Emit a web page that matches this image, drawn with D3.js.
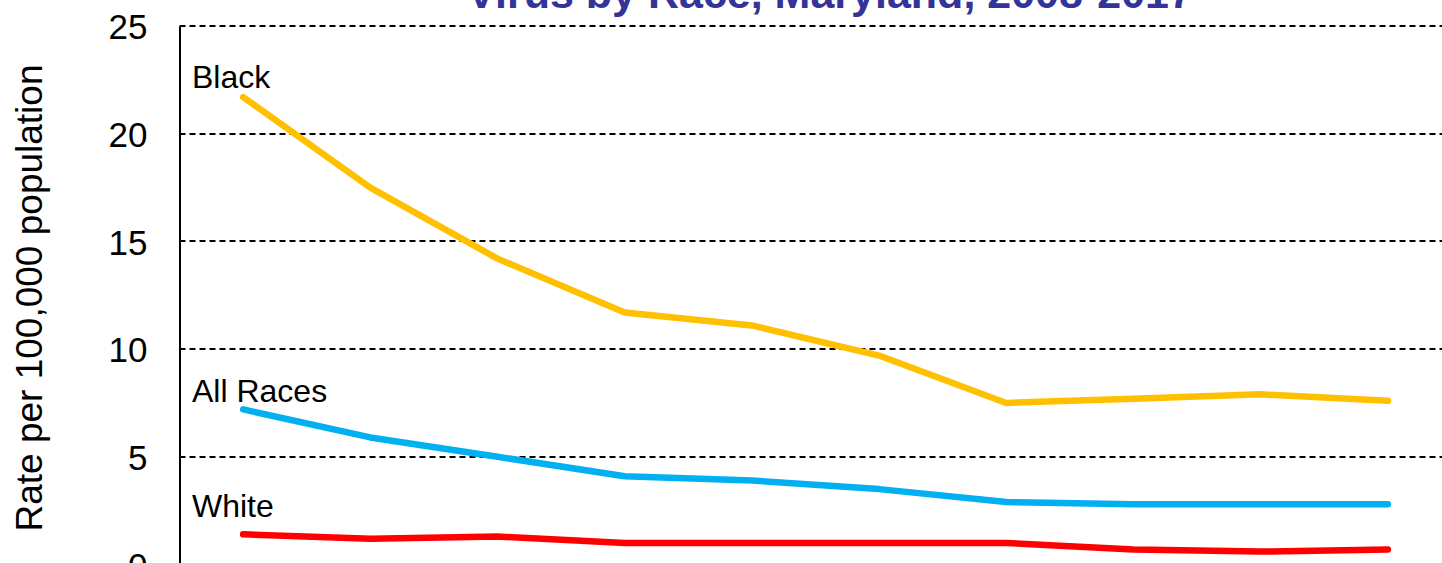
<!DOCTYPE html>
<html>
<head>
<meta charset="utf-8">
<script src="https://cdn.jsdelivr.net/npm/d3@7"></script>
<style>
  html, body { margin: 0; padding: 0; background: #ffffff; }
  svg { display: block; font-family: Arial, "Liberation Sans", sans-serif; }
</style>
</head>
<body>
<svg id="chart" width="1442" height="563"></svg>
<script>
// Rates per 100,000 population, Maryland, 2008-2017
const years = ["2008", "2009", "2010", "2011", "2012", "2013", "2014", "2015", "2016", "2017"];
const black = [21.7, 17.5, 14.2, 11.7, 11.1, 9.7, 7.5, 7.7, 7.9, 7.6];
const allRaces = [7.2, 5.9, 5.0, 4.1, 3.9, 3.5, 2.9, 2.8, 2.8, 2.8];
const white = [1.4, 1.2, 1.3, 1.0, 1.0, 1.0, 1.0, 0.7, 0.6, 0.7];
const seriesNames = ["Black", "All Races", "White"];
const yTicks = [0, 5, 10, 15, 20, 25];
const titleText = "Virus by Race, Maryland, 2008-2017";
const yAxisTitle = "Rate per 100,000 population";

const seriesValues = [black, allRaces, white];
const seriesStyle = {
  "Black":     { color: "#FFC000", labelDy: -9 },
  "All Races": { color: "#00B0F0", labelDy: -7.5 },
  "White":     { color: "#FF0000", labelDy: -17.5 }
};

const svg = d3.select("#chart");

const plotLeft = 179.5, plotTop = 26, plotBottom = 564.5;
const bandW = 127.2;

const x = d3.scaleBand()
  .domain(years)
  .range([plotLeft, plotLeft + bandW * years.length])
  .padding(0);
const xc = d => x(d) + x.bandwidth() / 2;

const y = d3.scaleLinear().domain([0, 25]).range([plotBottom, plotTop]);

// Title (second line of the heading)
svg.append("text")
  .attr("x", 830)
  .attr("y", 8)
  .attr("text-anchor", "middle")
  .attr("font-size", 43)
  .attr("font-weight", "bold")
  .attr("fill", "#333399")
  .text(titleText);

// Dashed horizontal gridlines
svg.append("g")
  .selectAll("line")
  .data(yTicks.filter(t => t > 0))
  .join("line")
  .attr("x1", plotLeft)
  .attr("x2", 1442)
  .attr("y1", d => Math.round(y(d)))
  .attr("y2", d => Math.round(y(d)))
  .attr("stroke", "#000000")
  .attr("stroke-width", 2)
  .attr("stroke-dasharray", "6,4");

// Y axis
const yAxis = d3.axisLeft(y)
  .tickValues(yTicks)
  .tickSize(0)
  .tickPadding(32)
  .tickFormat(d3.format("d"));

const gy = svg.append("g")
  .attr("transform", `translate(${plotLeft},0)`)
  .call(yAxis);
gy.select(".domain")
  .attr("stroke", "#000000")
  .attr("stroke-width", 2);
gy.selectAll(".tick text")
  .attr("font-size", 35)
  .attr("font-family", "Arial, 'Liberation Sans', sans-serif")
  .attr("fill", "#000000")
  .attr("dy", "0.36em");

// Y axis title
svg.append("text")
  .attr("transform", "translate(42,298) rotate(-90)")
  .attr("text-anchor", "middle")
  .attr("font-size", 37)
  .attr("fill", "#000000")
  .text(yAxisTitle);

// Lines
const line = d3.line()
  .x((d, i) => xc(years[i]))
  .y(d => y(d));

seriesNames.forEach((name, si) => {
  const vals = seriesValues[si];
  const st = seriesStyle[name];
  svg.append("path")
    .datum(vals)
    .attr("d", line)
    .attr("fill", "none")
    .attr("stroke", st.color)
    .attr("stroke-width", 6.5)
    .attr("stroke-linecap", "round")
    .attr("stroke-linejoin", "round");

  svg.append("text")
    .attr("x", 192)
    .attr("y", y(vals[0]) + st.labelDy)
    .attr("font-size", 32)
    .attr("fill", "#000000")
    .text(name);
});
</script>
</body>
</html>
